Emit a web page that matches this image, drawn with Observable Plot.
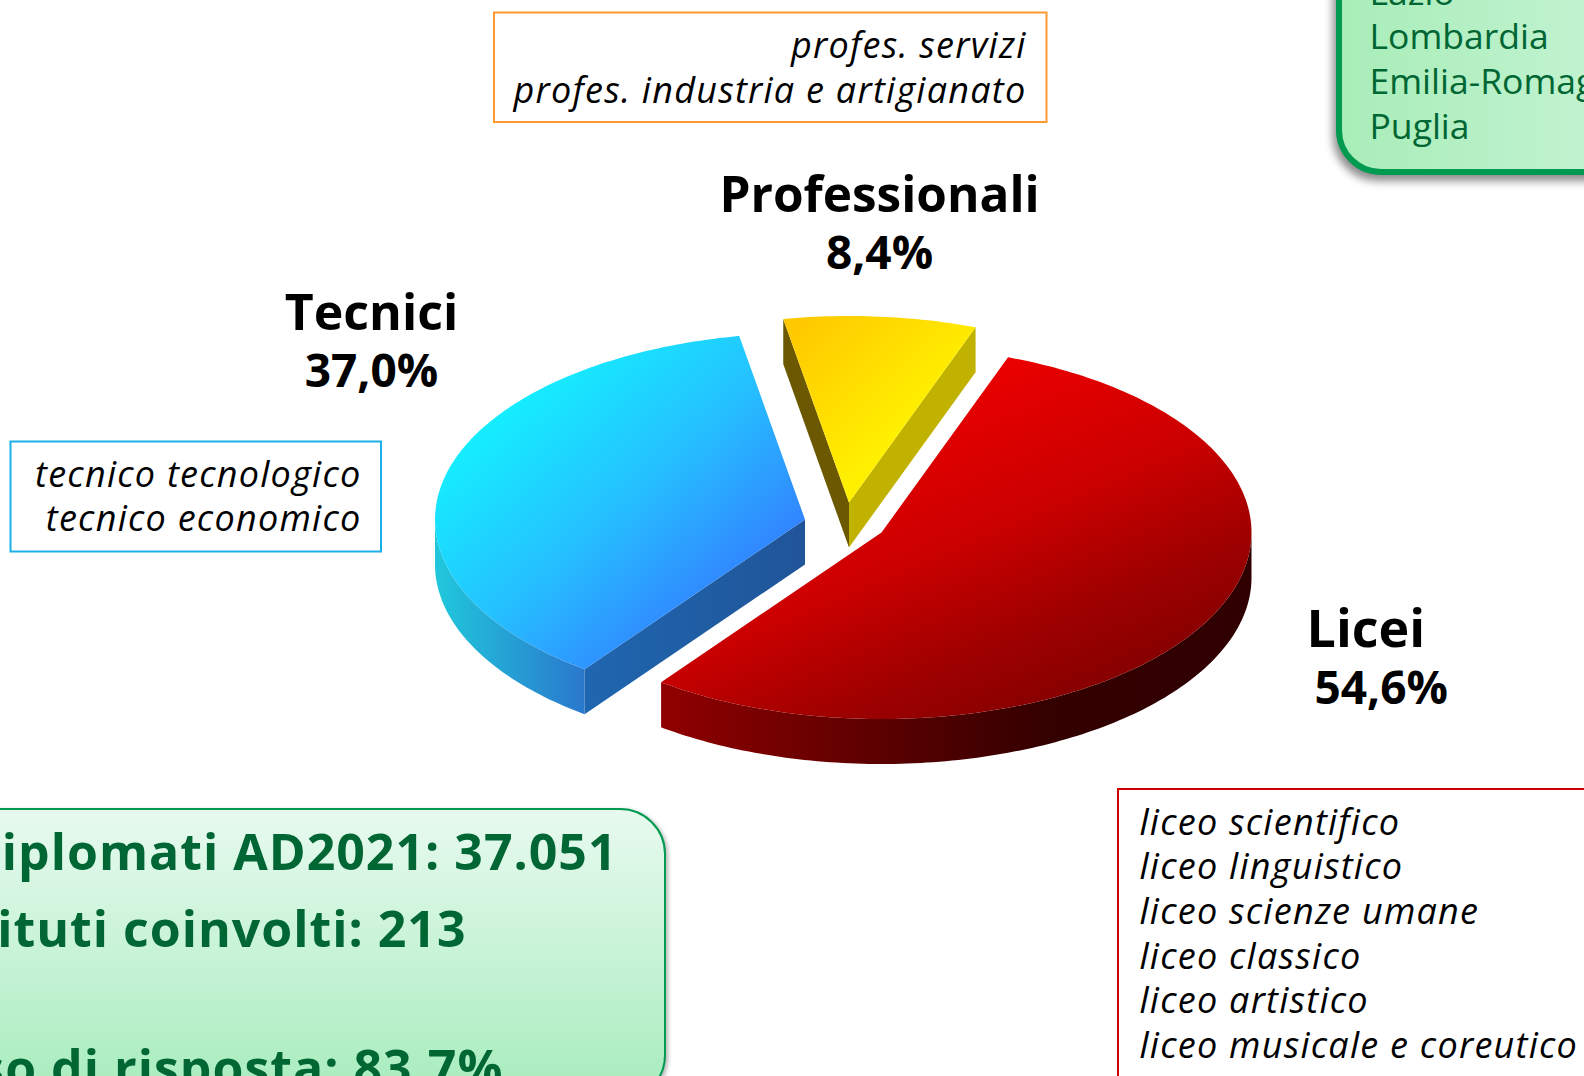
<!DOCTYPE html>
<html lang="it">
<head>
<meta charset="utf-8">
<script src="https://cdn.jsdelivr.net/npm/d3@7"></script>
<script src="https://cdn.jsdelivr.net/npm/@observablehq/plot@0.6"></script>
<style>
html,body{margin:0;padding:0;background:#fff;overflow:hidden}
svg{display:block}
g[font-style="italic"] text{letter-spacing:1.25px}
g[fill="#006633"][font-weight="700"] text{letter-spacing:1px}
</style>
</head>
<body>
<div id="chart"></div>
<script>
// ---- data ----
const categories = ["Licei", "Tecnici", "Professionali"];
const shares = [54.6, 37.0, 8.4];
const shareLabels = ["54,6%", "37,0%", "8,4%"];
const liceiTypes = ["liceo scientifico", "liceo linguistico", "liceo scienze umane", "liceo classico", "liceo artistico", "liceo musicale e coreutico"];
const tecniciTypes = ["tecnico tecnologico", "tecnico economico"];
const profTypes = ["profes. servizi", "profes. industria e artigianato"];
const regions = ["Lazio", "Lombardia", "Emilia-Romagna", "Puglia"];
const summary = ["iplomati AD2021: 37.051", "ituti coinvolti: 213", "so di risposta: 83,7%"];

// ---- layout ----
const W = 1584, H = 1076;
const FONT = "'Open Sans'";
const rx = 370, ry = 186.5, depth = 45, startAngle = 20;
const centers = [{x: 881, y: 532}, {x: 804.5, y: 519}, {x: 848.5, y: 502}];
const rad = d3.scaleLinear([0, 180], [0, Math.PI]);

// angular extents derived from the shares
let acc = startAngle;
const slices = shares.map((s, i) => {
  const a0 = acc, a1 = acc + s * 3.6;
  acc = a1;
  return {a0, a1, c: centers[i]};
});
const pt = (c, a, dy = 0) => ({x: c.x + rx * Math.sin(rad(a)), y: c.y - ry * Math.cos(rad(a)) + dy});
const arc = (c, a0, a1, dy = 0) => d3.range(a0, a1, 1).concat(a1).map(a => pt(c, a, dy));
const topFace = s => [s.c, ...arc(s.c, s.a0, s.a1), s.c];
const outer = (s, a0, a1) => [...arc(s.c, a0, a1), ...arc(s.c, a0, a1, depth).reverse()];
const cut = (s, a) => {
  const p = pt(s.c, a);
  return [s.c, p, {x: p.x, y: p.y + depth}, {x: s.c.x, y: s.c.y + depth}];
};
const poly = (pts, fill) => Plot.line(pts, {x: "x", y: "y", fill, stroke: "none"});

function grad(id, stops, x1 = 0, y1 = 0, x2 = 1, y2 = 1) {
  return `<linearGradient id="${id}" x1="${x1}" y1="${y1}" x2="${x2}" y2="${y2}">` +
    stops.map(([o, c]) => `<stop offset="${o}" stop-color="${c}"/>`).join("") + `</linearGradient>`;
}
const defs = () => {
  const g = d3.create("svg:defs");
  g.html([
    grad("redTop", [[0.1, "#ee0000"], [0.43, "#cc0000"], [0.65, "#a00000"], [1, "#6a0000"]], 0.3, 0, 1, 1),
    grad("redSide", [[0, "#900000"], [0.65, "#340000"], [1, "#300000"]], 0, 0, 1, 0),
    grad("blueTop", [[0.15, "#12f6ff"], [0.5, "#25c0ff"], [0.78, "#3284ff"]], 0, 0, 1, 1),
    grad("blueSide", [[0, "#20c8dc"], [1, "#2a78cc"]], 0, 0, 1, 0),
    grad("blueCut", [[0, "#1f66b0"], [1, "#205598"]], 0, 0, 1, 0),
    grad("yellowTop", [[0.05, "#ffc800"], [0.62, "#fff000"]], 0, 0, 1, 1),
    grad("boxH", [[0, "#a8edb8"], [1, "#c8f4d6"]], 0, 0, 1, 0),
    grad("boxV", [[0, "#e8faf0"], [1, "#a6ecbc"]], 0, 0, 0, 1)
  ].join(""));
  return g.node();
};

const txt = (text, x, y, size, opts = {}) => Plot.text([text], {
  text: d => d, x: () => x, y: () => y, lineAnchor: "bottom",
  fontFamily: FONT, fontSize: size, fill: "#000", textAnchor: "start", ...opts
});
const list = (items, x, y0, step, size, opts) => items.map((t, i) => txt(t, x, y0 + i * step, size, opts));
const box = (x1, y1, x2, y2, o) => Plot.rect([0], {x1: () => x1, x2: () => x2, y1: () => y1, y2: () => y2, ...o});

const [red, blue, yellow] = slices;

const chart = Plot.plot({
  width: W, height: H,
  margin: 0,
  x: {domain: [0, W], range: [0, W], axis: null},
  y: {domain: [0, H], range: [0, H], axis: null},
  style: {background: "#fff"},
  marks: [
    defs,
    // blue slice
    poly(outer(blue, blue.a0, 270), "url(#blueSide)"),
    poly(cut(blue, blue.a0), "url(#blueCut)"),
    poly(topFace(blue), "url(#blueTop)"),
    // yellow slice
    poly(cut(yellow, yellow.a0), "#6b5800"),
    poly(cut(yellow, yellow.a1), "#c2b200"),
    poly(topFace(yellow), "url(#yellowTop)"),
    // red slice
    poly(outer(red, 90, red.a1), "url(#redSide)"),
    poly(topFace(red), "url(#redTop)"),

    // category labels
    txt(categories[1], 371, 329, 50, {fontWeight: 700, textAnchor: "middle"}),
    txt(shareLabels[1], 371, 386, 46, {fontWeight: 700, textAnchor: "middle"}),
    txt(categories[2], 879, 211, 49.5, {fontWeight: 700, textAnchor: "middle"}),
    txt(shareLabels[2], 879, 268, 46, {fontWeight: 700, textAnchor: "middle"}),
    txt(categories[0], 1306, 646, 52, {fontWeight: 700}),
    txt(shareLabels[0], 1314, 703, 46, {fontWeight: 700}),

    // orange box
    box(494, 12.5, 1046.5, 122, {fill: "#fff", stroke: "#ff9a33", strokeWidth: 2}),
    ...list(profTypes, 1026, 57.5, 44.7, 36, {fontStyle: "italic", textAnchor: "end"}),

    // cyan box
    box(10.5, 441.5, 381, 551.5, {fill: "#fff", stroke: "#1cb0e8", strokeWidth: 2}),
    ...list(tecniciTypes, 361, 486, 44.7, 36, {fontStyle: "italic", textAnchor: "end"}),

    // red box
    box(1118, 789, 1640, 1140, {fill: "#fff", stroke: "#cc0000", strokeWidth: 2}),
    ...list(liceiTypes, 1139, 834, 44.7, 36, {fontStyle: "italic"}),

    // regions box (top right)
    box(1339, -60, 1660, 172, {fill: "url(#boxH)", stroke: "#009a50", strokeWidth: 6, rx: 42, ry: 42, imageFilter: "drop-shadow(-3px 6px 4px rgba(0,0,0,.45))"}),
    ...list(regions, 1369, 4, 44.7, 35.5, {fill: "#006633"}),

    // summary box (bottom left)
    box(-60, 809, 665, 1100, {fill: "url(#boxV)", stroke: "#009a50", strokeWidth: 2, rx: 45, ry: 45, imageFilter: "drop-shadow(2px 2px 2px rgba(0,0,0,.3))"}),
    txt(summary[0], 617, 869, 50, {fill: "#006633", fontWeight: 700, textAnchor: "end"}),
    txt(summary[1], 466, 946, 50, {fill: "#006633", fontWeight: 700, textAnchor: "end"}),
    txt(summary[2], 503, 1085, 50, {fill: "#006633", fontWeight: 700, textAnchor: "end"})
  ]
});
document.getElementById("chart").append(chart);
</script>
</body>
</html>
